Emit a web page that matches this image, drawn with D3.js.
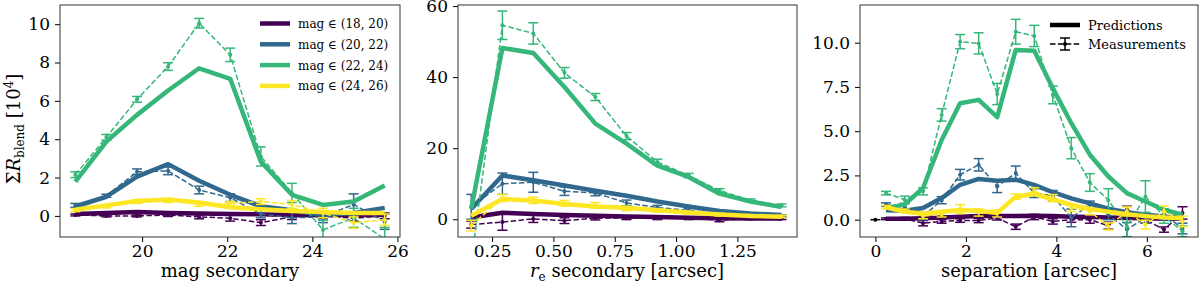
<!DOCTYPE html>
<meta charset="utf-8">
<style>
body { margin: 0; background: #fff; }
text { font-family: 'DejaVu Serif', serif; fill: #000; }
.tick line { stroke: #000; }
</style>
<body>
<svg width="1200" height="284"></svg>
<script src="https://d3js.org/d3.v7.min.js"></script>
<script>

// series order: mag in (18,20), (20,22), (22,24), (24,26)
var magBins = ["(18, 20)", "(20, 22)", "(22, 24)", "(24, 26)"];
var colors = ["#440154", "#31688e", "#35b779", "#fde725"];

// panel 1 : mag secondary
var magX = [18.43, 19.16, 19.88, 20.61, 21.34, 22.07, 22.79, 23.52, 24.25, 24.97, 25.70];
var magPred = [
  [0.10, 0.15, 0.20, 0.15, 0.12, 0.10, 0.08, 0.05, 0.05, 0.05, 0.05],
  [0.49, 1.00, 2.05, 2.70, 1.83, 1.10, 0.50, 0.30, 0.05, 0.15, 0.42],
  [1.79, 3.88, 5.27, 6.54, 7.70, 7.15, 2.83, 1.10, 0.57, 0.75, 1.58],
  [0.32, 0.55, 0.78, 0.85, 0.70, 0.45, 0.35, 0.25, 0.20, 0.15, 0.15]
];
var magMeas = [
  [0.05, 0.00, 0.00, 0.05, -0.05, -0.12, -0.35, -0.04, 0.00, -0.12, 0.00],
  [0.55, 1.05, 2.30, 2.35, 1.35, 0.95, 0.10, -0.10, -0.05, 0.60, -0.30],
  [2.15, 4.10, 6.08, 7.79, 10.05, 8.40, 3.10, 1.20, -0.73, -0.10, -1.20],
  [0.30, 0.50, 0.75, 0.80, 0.60, 0.65, 0.75, 0.60, 0.15, -0.35, -0.20]
];
var magErr = [
  [0.05, 0.05, 0.05, 0.08, 0.10, 0.15, 0.15, 0.15, 0.15, 0.15, 0.15],
  [0.10, 0.08, 0.15, 0.20, 0.20, 0.20, 0.20, 0.30, 0.30, 0.55, 0.40],
  [0.15, 0.15, 0.15, 0.20, 0.25, 0.35, 0.50, 0.50, 0.50, 0.50, 0.60],
  [0.08, 0.08, 0.10, 0.10, 0.10, 0.10, 0.15, 0.20, 0.25, 0.30, 0.30]
];

// panel 2 : r_e secondary
var reX = [0.165, 0.292, 0.418, 0.545, 0.671, 0.798, 0.924, 1.051, 1.177, 1.304, 1.430];
var rePred = [
  [0.5, 1.8, 1.5, 1.2, 1.0, 0.8, 0.6, 0.4, 0.3, 0.2, 0.2],
  [2.9, 12.3, 11.0, 9.5, 8.0, 6.6, 5.0, 3.6, 2.3, 1.6, 1.2],
  [2.9, 48.2, 46.8, 37.2, 26.9, 21.3, 15.1, 11.9, 7.2, 5.0, 3.4],
  [1.0, 5.7, 5.3, 4.3, 3.6, 3.2, 2.5, 1.9, 1.3, 0.9, 0.7]
];
var reMeas = [
  [-1.5, -0.8, 0.1, -0.4, 0.3, 0.4, 0.3, 0.3, -0.3, 0.2, 0.2],
  [3.5, 10.0, 10.4, 7.9, 7.4, 4.6, 3.3, 2.5, 1.5, 1.0, 0.9],
  [-12.0, 54.6, 52.3, 41.2, 34.4, 23.4, 16.1, 12.3, 8.1, 5.3, 3.9],
  [-1.8, 6.0, 5.3, 4.5, 3.9, 3.0, 2.5, 1.8, 1.3, 1.0, 0.8]
];
var reErr = [
  [1.0, 2.3, 1.0, 0.8, 0.5, 0.5, 0.4, 0.4, 0.4, 0.3, 0.3],
  [3.5, 3.0, 2.8, 1.2, 0.8, 0.8, 0.6, 0.5, 0.4, 0.3, 0.3],
  [2.0, 4.0, 3.0, 1.5, 1.0, 1.0, 0.8, 0.6, 0.5, 0.4, 0.4],
  [1.5, 1.0, 0.9, 0.8, 0.8, 0.6, 0.5, 0.4, 0.4, 0.3, 0.3]
];

// panel 3 : separation
var sepX = [0.235, 0.645, 1.054, 1.464, 1.873, 2.283, 2.692, 3.102, 3.511, 3.921, 4.330, 4.740, 5.149, 5.559, 5.968, 6.378, 6.787];
var sepPred = [
  [0.05, 0.05, 0.08, 0.12, 0.17, 0.20, 0.20, 0.20, 0.22, 0.20, 0.17, 0.15, 0.12, 0.10, 0.08, 0.05, 0.05],
  [0.53, 0.50, 0.66, 1.22, 1.97, 2.30, 2.20, 2.26, 1.97, 1.55, 1.20, 0.92, 0.62, 0.42, 0.28, 0.18, 0.10],
  [0.66, 0.85, 1.79, 4.50, 6.58, 6.77, 5.79, 9.59, 9.55, 7.43, 5.45, 3.67, 2.44, 1.50, 1.03, 0.56, 0.28],
  [0.70, 0.45, 0.35, 0.45, 0.55, 0.50, 0.38, 1.30, 1.45, 1.15, 0.85, 0.60, 0.45, 0.30, 0.20, 0.12, 0.08]
];
var sepMeas = [
  [0.05, 0.05, -0.20, -0.10, -0.05, -0.05, 0.10, -0.40, 0.15, -0.10, 0.00, 0.00, -0.34, 0.56, 0.00, -0.56, 0.38],
  [0.85, 0.75, 0.19, 1.10, 2.54, 3.10, 1.88, 2.63, 1.50, 1.35, 0.10, 0.85, 0.30, -0.56, 0.10, 0.30, -0.50],
  [1.50, 1.13, 1.60, 5.92, 10.06, 9.96, 7.10, 10.62, 10.38, 7.05, 4.04, 2.10, 1.10, -0.38, 1.30, 0.20, -0.66],
  [0.70, 0.50, 0.20, 0.30, 0.60, 0.40, 0.35, 1.30, 1.60, 1.22, 0.66, 0.47, -0.38, 0.47, -0.28, 0.47, -0.10]
];
var sepErr = [
  [0.05, 0.08, 0.15, 0.10, 0.10, 0.12, 0.12, 0.15, 0.15, 0.15, 0.15, 0.20, 0.20, 0.20, 0.20, 0.15, 0.35],
  [0.10, 0.15, 0.20, 0.20, 0.30, 0.35, 0.35, 0.40, 0.25, 0.30, 0.50, 0.20, 0.30, 0.40, 0.30, 0.30, 0.30],
  [0.10, 0.20, 0.20, 0.35, 0.40, 0.60, 0.60, 0.70, 0.60, 0.50, 0.60, 0.50, 0.65, 0.60, 0.90, 0.40, 0.30],
  [0.10, 0.10, 0.15, 0.15, 0.25, 0.20, 0.20, 0.15, 0.20, 0.20, 0.20, 0.20, 0.20, 0.25, 0.25, 0.30, 0.30]
];
// lone point at zero separation
var sepZeroX = [0];
var sepZeroY = [0];

var magTicksX = [20, 22, 24, 26];
var magTicksY = [0, 2, 4, 6, 8, 10];
var reTicksX = [0.25, 0.50, 0.75, 1.00, 1.25];
var reTicksY = [0, 20, 40, 60];
var sepTicksX = [0, 2, 4, 6];
var sepTicksY = [0, 2.5, 5, 7.5, 10];

var svg = d3.select("svg");
var plotTop = 5, plotBottom = 237;

function drawPanel(id, left, right, xDom, yDom, xs, pred, meas, err, xTicks, yTicks, xFmt, yFmt) {
  var x = d3.scaleLinear().domain(xDom).range([left, right]);
  var y = d3.scaleLinear().domain(yDom).range([plotBottom, plotTop]);

  svg.append("clipPath").attr("id", "clip" + id)
    .append("rect").attr("x", left).attr("y", plotTop)
    .attr("width", right - left).attr("height", plotBottom - plotTop);

  var g = svg.append("g").attr("clip-path", "url(#clip" + id + ")");
  var line = d3.line().x(function(d) { return x(d[0]); }).y(function(d) { return y(d[1]); });

  for (var s = 0; s < 4; s++) {
    var c = colors[s];
    g.append("path")
      .datum(xs.map(function(v, i) { return [v, pred[s][i]]; }))
      .attr("d", line)
      .attr("fill", "none").attr("stroke", c)
      .attr("stroke-width", 4.5).attr("stroke-linejoin", "round");

    var pts = xs.map(function(v, i) { return [v, meas[s][i], err[s][i]]; });
    g.append("path")
      .datum(pts)
      .attr("d", line)
      .attr("fill", "none").attr("stroke", c)
      .attr("stroke-width", 1.5).attr("stroke-dasharray", "5.5,2.4");
    var eb = g.append("g").attr("stroke", c).attr("stroke-width", 1.5);
    pts.forEach(function(p) {
      var cx = x(p[0]);
      eb.append("line").attr("x1", cx).attr("x2", cx).attr("y1", y(p[1] - p[2])).attr("y2", y(p[1] + p[2]));
      eb.append("line").attr("x1", cx - 5).attr("x2", cx + 5).attr("y1", y(p[1] - p[2])).attr("y2", y(p[1] - p[2]));
      eb.append("line").attr("x1", cx - 5).attr("x2", cx + 5).attr("y1", y(p[1] + p[2])).attr("y2", y(p[1] + p[2]));
    });
    g.append("g").selectAll("circle").data(pts).enter().append("circle")
      .attr("cx", function(d) { return x(d[0]); })
      .attr("cy", function(d) { return y(d[1]); })
      .attr("r", 2).attr("fill", c);
  }

  var ax = svg.append("g").attr("transform", "translate(0," + plotBottom + ")")
    .call(d3.axisBottom(x).tickValues(xTicks).tickFormat(xFmt).tickSize(5).tickPadding(3));
  var ay = svg.append("g").attr("transform", "translate(" + left + ",0)")
    .call(d3.axisLeft(y).tickValues(yTicks).tickFormat(yFmt).tickSize(5).tickPadding(5));
  [ax, ay].forEach(function(a) {
    a.select(".domain").remove();
    a.selectAll("text").attr("font-size", 17).attr("font-family", "'DejaVu Serif', serif");
  });

  svg.append("rect").attr("x", left).attr("y", plotTop)
    .attr("width", right - left).attr("height", plotBottom - plotTop)
    .attr("fill", "none").attr("stroke", "#333").attr("stroke-width", 1);

  return { x: x, y: y, g: g };
}

var p1 = drawPanel(1, 60, 400, [18.07, 26.06], [-1.1, 11.0], magX, magPred, magMeas, magErr,
  magTicksX, magTicksY, d3.format("d"), d3.format("d"));
var p2 = drawPanel(2, 458, 797, [0.111, 1.493], [-5.0, 60.3], reX, rePred, reMeas, reErr,
  reTicksX, reTicksY, d3.format(".2f"), d3.format("d"));
var p3 = drawPanel(3, 860, 1198, [-0.34, 7.13], [-0.98, 12.13], sepX, sepPred, sepMeas, sepErr,
  sepTicksX, sepTicksY, d3.format("d"), d3.format(".1f"));

// the point at zero separation
sepZeroX.forEach(function(v, i) {
  var cx = p3.x(v), cy = p3.y(sepZeroY[i]);
  p3.g.append("line").attr("x1", cx - 5).attr("x2", cx + 5).attr("y1", cy).attr("y2", cy)
    .attr("stroke", "#000").attr("stroke-width", 1.5);
  p3.g.append("circle").attr("cx", cx).attr("cy", cy).attr("r", 2).attr("fill", "#000");
});

// axis labels
svg.append("text").attr("x", 230).attr("y", 277).attr("text-anchor", "middle")
  .attr("font-size", 18).text("mag secondary");

var xl2 = svg.append("text").attr("x", 627).attr("y", 277).attr("text-anchor", "middle").attr("font-size", 18);
xl2.append("tspan").attr("font-style", "italic").text("r");
xl2.append("tspan").attr("font-size", 12).attr("dy", 4).text("e");
xl2.append("tspan").attr("dy", -4).text(" secondary [arcsec]");

svg.append("text").attr("x", 1029).attr("y", 277).attr("text-anchor", "middle")
  .attr("font-size", 18).text("separation [arcsec]");

var yl = svg.append("text").attr("transform", "translate(20,129) rotate(-90)")
  .attr("text-anchor", "middle").attr("font-size", 18);
yl.append("tspan").text("Σ");
yl.append("tspan").attr("font-style", "italic").text("R");
yl.append("tspan").attr("font-size", 12).attr("dy", 4).text("blend");
yl.append("tspan").attr("dy", -4).text(" [10");
yl.append("tspan").attr("font-size", 12).attr("dy", -7).text("4");
yl.append("tspan").attr("dy", 7).text("]");

// legend, panel 1
var leg = svg.append("g");
magBins.forEach(function(b, i) {
  var ly = 23.5 + i * 20.8;
  leg.append("line").attr("x1", 260).attr("x2", 290).attr("y1", ly).attr("y2", ly)
    .attr("stroke", colors[i]).attr("stroke-width", 4.5);
  leg.append("text").attr("x", 298).attr("y", ly + 4.5).attr("font-size", 12)
    .text("mag ∈ " + b);
});

// legend, panel 3
var leg3 = svg.append("g");
leg3.append("line").attr("x1", 1050).attr("x2", 1080).attr("y1", 25).attr("y2", 25)
  .attr("stroke", "#000").attr("stroke-width", 4.5);
leg3.append("text").attr("x", 1088).attr("y", 30).attr("font-size", 13).text("Predictions");
leg3.append("line").attr("x1", 1050).attr("x2", 1080).attr("y1", 44).attr("y2", 44)
  .attr("stroke", "#000").attr("stroke-width", 1.5).attr("stroke-dasharray", "5.5,2.4");
leg3.append("line").attr("x1", 1065).attr("x2", 1065).attr("y1", 38).attr("y2", 50)
  .attr("stroke", "#000").attr("stroke-width", 1.5);
leg3.append("line").attr("x1", 1060).attr("x2", 1070).attr("y1", 38).attr("y2", 38)
  .attr("stroke", "#000").attr("stroke-width", 1.5);
leg3.append("line").attr("x1", 1060).attr("x2", 1070).attr("y1", 50).attr("y2", 50)
  .attr("stroke", "#000").attr("stroke-width", 1.5);
leg3.append("circle").attr("cx", 1065).attr("cy", 44).attr("r", 2).attr("fill", "#000");
leg3.append("text").attr("x", 1088).attr("y", 49).attr("font-size", 13).text("Measurements");

</script>
</body>
